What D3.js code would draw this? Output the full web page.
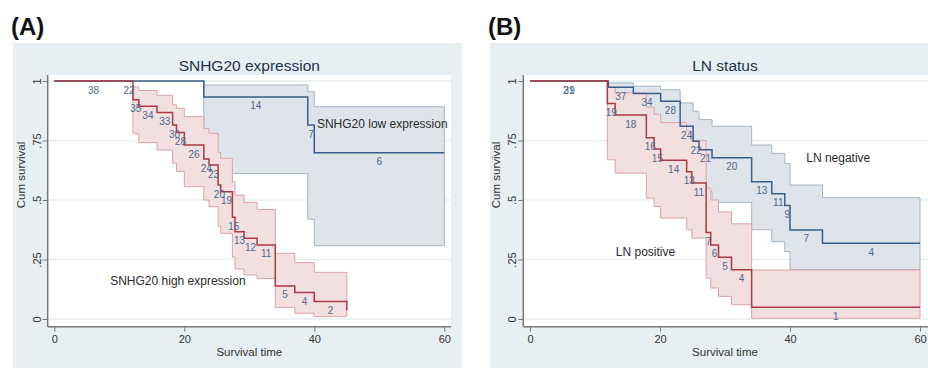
<!DOCTYPE html>
<html><head><meta charset="utf-8">
<script src="https://cdn.jsdelivr.net/npm/d3@7"></script>
<style>
html,body{margin:0;padding:0;background:#fff;}
svg{display:block;font-family:"Liberation Sans",Arial,sans-serif;}
</style></head>
<body>
<svg id="chart" width="928" height="368"></svg>
<script>
// ---------- DATA ----------
const xTicks = [0, 20, 40, 60];
const xTickLabels = ["0", "20", "40", "60"];
const yTicks = [0, 0.25, 0.5, 0.75, 1];
const yTickLabels = ["0", ".25", ".5", ".75", "1"];

// Panel A: SNHG20 high expression (red)
const aHighTime  = [0, 12.1, 13.0, 15.8, 18.2, 18.8, 20.0, 23.0, 23.8, 25.2, 25.6, 27.4, 27.8, 29.2, 31.2, 34.0, 37.0, 40.0, 45.0];
const aHighSurv  = [1, 0.921, 0.894, 0.868, 0.815, 0.784, 0.731, 0.672, 0.647, 0.563, 0.535, 0.427, 0.367, 0.339, 0.311, 0.139, 0.111, 0.074, 0.037];
const aHighLower = [null, 0.78, 0.741, 0.71, 0.655, 0.62, 0.556, 0.50, 0.472, 0.39, 0.36, 0.26, 0.21, 0.185, 0.17, 0.049, 0.024, 0.01, 0.01];
const aHighUpper = [null, 0.975, 0.96, 0.94, 0.90, 0.885, 0.85, 0.80, 0.78, 0.70, 0.675, 0.575, 0.52, 0.49, 0.46, 0.276, 0.237, 0.196, 0.196];
const aHighRisk  = [38, 35, 34, 33, 30, 28, 26, 24, 23, 20, 19, 15, 13, 12, 11, 5, 4, 2, null];
const aHighEnd = 45;

// Panel A: SNHG20 low expression (blue)
const aLowTime  = [0, 23.0, 39.0, 40.0];
const aLowSurv  = [1, 0.933, 0.815, 0.699];
const aLowLower = [null, 0.611, 0.419, 0.308];
const aLowUpper = [null, 0.983, 0.955, 0.892];
const aLowRisk  = [22, 14, 7, 6];
const aLowEnd = 60;

// Panel B: LN positive (red)
const bPosTime  = [0, 11.9, 13.1, 17.9, 19.1, 20.1, 24.1, 24.9, 27.1, 27.8, 29.0, 31.0, 34.1];
const bPosSurv  = [1, 0.905, 0.857, 0.762, 0.714, 0.667, 0.619, 0.571, 0.363, 0.311, 0.259, 0.207, 0.049];
const bPosLower = [null, 0.669, 0.613, 0.508, 0.473, 0.424, 0.375, 0.34, 0.172, 0.13, 0.095, 0.06, 0.003];
const bPosUpper = [null, 0.975, 0.95, 0.89, 0.86, 0.825, 0.79, 0.75, 0.55, 0.50, 0.45, 0.40, 0.206];
const bPosRisk  = [21, 19, 18, 16, 15, 14, 13, 11, 7, 6, 5, 4, 1];
const bPosEnd = 60;

// Panel B: LN negative (blue)
const bNegTime  = [0, 12.05, 15.9, 20.1, 23.1, 25.1, 26.0, 28.0, 34.1, 37.2, 39.2, 40.0, 45.0];
const bNegSurv  = [1, 0.974, 0.948, 0.915, 0.81, 0.747, 0.711, 0.677, 0.577, 0.526, 0.477, 0.374, 0.318];
const bNegLower = [null, 0.83, 0.80, 0.76, 0.64, 0.57, 0.535, 0.49, 0.375, 0.325, 0.283, 0.208, 0.208];
const bNegUpper = [null, 0.992, 0.978, 0.963, 0.908, 0.873, 0.838, 0.81, 0.731, 0.696, 0.654, 0.563, 0.51];
const bNegRisk  = [39, 37, 34, 28, 24, 22, 21, 20, 13, 11, 9, 7, 4];
const bNegEnd = 60;

// ---------- STYLE ----------
const RED = {line: "#aa3b43", fill: "#f2dfe0", edge: "#dca3a6"};
const BLUE = {line: "#3a5e88", fill: "#dfe4ea", edge: "#a3b5c8"};
const RISK_COLOR = "#4d6a8c";

const svg = d3.select("#chart");

function makeSeries(time, surv, lower, upper, risk, end) {
  return time.map((t, i) => ({t, s: surv[i], lo: lower[i], hi: upper[i], n: risk[i],
    t1: i + 1 < time.length ? time[i + 1] : end}));
}

function drawPanel(cfg) {
  const g = svg.append("g");
  g.append("rect").attr("x", cfg.bgX).attr("y", 43).attr("width", cfg.bgW).attr("height", 330)
    .attr("fill", "#e7eff2");
  g.append("rect").attr("x", cfg.axisX).attr("y", 75).attr("width", cfg.plotR - cfg.axisX).attr("height", 326.7 - 75)
    .attr("fill", "#ffffff");

  const x = d3.scaleLinear().domain([0, 60]).range([cfg.x0, cfg.x60]);
  const y = d3.scaleLinear().domain([0, 1]).range([319, 81]);

  g.append("g").selectAll("line").data(yTicks).join("line")
    .attr("x1", cfg.axisX + 1).attr("x2", cfg.plotR)
    .attr("y1", d => y(d)).attr("y2", d => y(d))
    .attr("stroke", "#e6eff0").attr("stroke-width", 1.6);

  const band = d3.area().curve(d3.curveStepAfter)
    .x(d => x(d.t)).y0(d => y(d.lo)).y1(d => y(d.hi));
  cfg.series.forEach(sr => {
    const pts = sr.data.filter(d => d.lo != null && d.t1 > d.t);
    const last = pts[pts.length - 1];
    const bd = pts.concat([{t: last.t1, lo: last.lo, hi: last.hi}]);
    g.append("path").attr("d", band(bd)).attr("fill", sr.col.fill)
      .attr("stroke", sr.col.edge).attr("stroke-width", 1);
  });

  const line = d3.line().curve(d3.curveStepAfter).x(d => x(d.t)).y(d => y(d.s));
  cfg.series.forEach(sr => {
    const lastPt = sr.data[sr.data.length - 1];
    const d = sr.data.concat([{t: lastPt.t1, s: lastPt.s}]);
    g.append("path").attr("d", line(d)).attr("fill", "none")
      .attr("stroke", sr.col.line).attr("stroke-width", 1.5);
  });

  cfg.series.forEach(sr => {
    g.append("g").selectAll("text").data(sr.data.filter(d => d.n != null && d.t1 > d.t)).join("text")
      .attr("x", d => x((d.t + d.t1) / 2)).attr("y", d => y(d.s) + 12.5)
      .attr("text-anchor", "middle").attr("font-size", 10).attr("fill", RISK_COLOR)
      .text(d => d.n);
  });

  g.append("line").attr("x1", cfg.axisX).attr("x2", cfg.axisX).attr("y1", 75).attr("y2", 326.7)
    .attr("stroke", "#767676").attr("stroke-width", 1.5);
  g.append("line").attr("x1", cfg.axisX).attr("x2", cfg.plotR).attr("y1", 326.7).attr("y2", 326.7)
    .attr("stroke", "#767676").attr("stroke-width", 1.5);

  const yAxis = d3.axisLeft(y).tickValues(yTicks).tickFormat((d, i) => yTickLabels[i]).tickSize(5).tickPadding(4);
  const ya = g.append("g").attr("transform", `translate(${cfg.axisX},0)`).call(yAxis);
  ya.select(".domain").remove();
  ya.selectAll(".tick line").attr("stroke", "#767676");
  ya.selectAll(".tick text").attr("font-size", 11).attr("fill", "#333")
    .attr("text-anchor", "middle")
    .attr("transform", "translate(-11,0) rotate(-90)").attr("x", 0).attr("y", 0).attr("dy", "0.35em");

  const xAxis = d3.axisBottom(x).tickValues(xTicks).tickFormat((d, i) => xTickLabels[i]).tickSize(5).tickPadding(4);
  const xa = g.append("g").attr("transform", `translate(0,326.7)`).call(xAxis);
  xa.select(".domain").remove();
  xa.selectAll(".tick line").attr("stroke", "#767676");
  xa.selectAll(".tick text").attr("font-size", 11).attr("fill", "#333");

  g.append("text").attr("x", (cfg.x0 + cfg.x60) / 2).attr("y", 70.5).attr("text-anchor", "middle")
    .attr("font-size", 15.5).attr("fill", "#22344a").text(cfg.title);
  g.append("text").attr("x", (cfg.x0 + cfg.x60) / 2).attr("y", 356).attr("text-anchor", "middle")
    .attr("font-size", 11.5).attr("fill", "#333").text("Survival time");
  g.append("text").attr("transform", `translate(${cfg.axisX - 27},175) rotate(-90)`).attr("text-anchor", "middle")
    .attr("dy", "0.35em").attr("font-size", 11.5).attr("fill", "#333").text("Cum survival");
  g.append("text").attr("x", cfg.bgX - 2).attr("y", 35).attr("font-size", 24).attr("font-weight", "bold")
    .attr("fill", "#111").text(cfg.letter);

  cfg.notes.forEach(n => {
    g.append("text").attr("x", x(n.t)).attr("y", y(n.s)).attr("dy", "0.35em").attr("font-size", 12)
      .attr("fill", "#2a2a2a").text(n.text);
  });
}

drawPanel({
  letter: "(A)", title: "SNHG20 expression",
  bgX: 13, bgW: 449, axisX: 47.7, plotR: 451, x0: 54.3, x60: 444.3,
  series: [
    {data: makeSeries(aLowTime, aLowSurv, aLowLower, aLowUpper, aLowRisk, aLowEnd), col: BLUE},
    {data: makeSeries(aHighTime, aHighSurv, aHighLower, aHighUpper, aHighRisk, aHighEnd), col: RED}
  ],
  notes: [
    {text: "SNHG20 low expression", t: 40.4, s: 0.82},
    {text: "SNHG20 high expression", t: 8.6, s: 0.161}
  ]
});

drawPanel({
  letter: "(B)", title: "LN status",
  bgX: 490, bgW: 450, axisX: 523.3, plotR: 928, x0: 530, x60: 920,
  series: [
    {data: makeSeries(bNegTime, bNegSurv, bNegLower, bNegUpper, bNegRisk, bNegEnd), col: BLUE},
    {data: makeSeries(bPosTime, bPosSurv, bPosLower, bPosUpper, bPosRisk, bPosEnd), col: RED}
  ],
  notes: [
    {text: "LN negative", t: 42.5, s: 0.677},
    {text: "LN positive", t: 13.2, s: 0.283}
  ]
});
</script>
</body></html>
